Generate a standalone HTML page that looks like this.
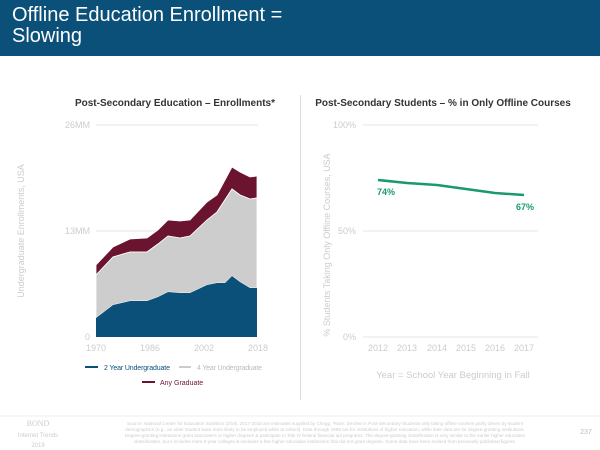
<!DOCTYPE html>
<html><head><meta charset="utf-8"><style>
body{margin:0;width:600px;height:450px;background:#fff;overflow:hidden;font-family:"Liberation Sans",sans-serif;position:relative}
.hd{position:absolute;left:0;top:0;width:600px;height:56px;background:#0b5079;color:#fff;font-size:20px;line-height:21px;padding:5px 0 0 12px;box-sizing:border-box}
</style></head><body>
<div class="hd">Offline Education Enrollment =<br>Slowing</div>
<svg width="600" height="450" style="position:absolute;left:0;top:0" font-family="Liberation Sans, sans-serif">
<text x="175" y="106" font-size="10" font-weight="bold" text-anchor="middle" fill="#333">Post-Secondary Education – Enrollments*</text>
<text x="443" y="106" font-size="10" font-weight="bold" text-anchor="middle" fill="#333">Post-Secondary Students – % in Only Offline Courses</text>
<line x1="300.5" y1="95" x2="300.5" y2="400" stroke="#ddd"/>
<g stroke="#e6e6e6"><line x1="96" y1="125" x2="258" y2="125"/><line x1="96" y1="231" x2="258" y2="231"/>
<line x1="363" y1="125" x2="538" y2="125"/><line x1="363" y1="231" x2="538" y2="231"/><line x1="363" y1="337" x2="538" y2="337"/></g>
<g font-size="9" fill="#ccc">
<text x="90" y="128" text-anchor="end">26MM</text><text x="90" y="234" text-anchor="end">13MM</text><text x="90" y="340" text-anchor="end">0</text>
<text x="96" y="351" text-anchor="middle">1970</text><text x="150" y="351" text-anchor="middle">1986</text><text x="204" y="351" text-anchor="middle">2002</text><text x="258" y="351" text-anchor="middle">2018</text>
<text x="356" y="128" text-anchor="end">100%</text><text x="356" y="234" text-anchor="end">50%</text><text x="356" y="340" text-anchor="end">0%</text>
<text x="378" y="351" text-anchor="middle">2012</text><text x="407" y="351" text-anchor="middle">2013</text><text x="437" y="351" text-anchor="middle">2014</text><text x="466" y="351" text-anchor="middle">2015</text><text x="495" y="351" text-anchor="middle">2016</text><text x="524" y="351" text-anchor="middle">2017</text>
<text transform="translate(24,231) rotate(-90)" text-anchor="middle">Undergraduate Enrollments, USA</text>
<text transform="translate(330,245) rotate(-90)" text-anchor="middle">% Students Taking Only Offline Courses, USA</text>
<text x="453" y="378" text-anchor="middle" font-size="9.5">Year = School Year Beginning in Fall</text>
</g>
<polygon fill="#6b1430" stroke="#fff" stroke-width="0.8" points="96,265 113,247 130,239 147,238 158,230 168,220 180,221 190,220 207,202 217,195 232,167 240,172 250,177 257,176 257,198 250,199 240,195 232,189 217,212 207,220 190,236 180,238 168,236 158,244 147,252 130,252 113,257 96,275"/>
<polygon fill="#cdcdcd" stroke="#fff" stroke-width="0.8" points="96,275 113,257 130,252 147,252 158,244 168,236 180,238 190,236 207,220 217,212 232,189 240,195 250,199 257,198 257,288 250,288 240,282 232,276 225,283 217,283 207,285 190,293 180,293 168,292 158,297 147,301 130,301 113,305 96,318"/>
<polygon fill="#0b5079" points="96,318 113,305 130,301 147,301 158,297 168,292 180,293 190,293 207,285 217,283 225,283 232,276 240,282 250,288 257,288 257,337 96,337"/>
<polyline fill="none" stroke="#1a9a6c" stroke-width="2.5" points="378,180 407,183 437,185 466,189 495,193 524,195"/>
<text x="377" y="195" font-size="9" font-weight="bold" fill="#1a9a6c">74%</text>
<text x="516" y="210" font-size="9" font-weight="bold" fill="#1a9a6c">67%</text>
<g font-size="7"><line x1="85" y1="367" x2="98" y2="367" stroke="#0b5079" stroke-width="2"/><text x="104" y="370" fill="#0b5079" textLength="66">2 Year Undergraduate</text>
<line x1="179" y1="367" x2="191" y2="367" stroke="#ccc" stroke-width="2"/><text x="197" y="370" fill="#bbb" textLength="65">4 Year Undergraduate</text>
<line x1="142" y1="382" x2="155" y2="382" stroke="#6b1430" stroke-width="2"/><text x="160" y="385" fill="#6b1430">Any Graduate</text></g>
<line x1="0" y1="416" x2="600" y2="416" stroke="#eee"/>
<text x="38" y="426" font-size="8" fill="#ccc" font-family="Liberation Serif, serif" text-anchor="middle">BOND</text>
<text x="38" y="437" font-size="6" fill="#ccc" text-anchor="middle">Internet Trends</text>
<text x="38" y="447" font-size="6" fill="#ccc" text-anchor="middle">2019</text>
<g font-size="4.6" fill="#ccc" text-anchor="middle"><text x="325" y="425">Source: National Center for Education Statistics (3/19). 2017-2018 are estimates supplied by Chegg. *Note: Decline in Post-Secondary Students only taking offline courses partly driven by student</text>
<text x="325" y="431">demographics (e.g., an older student base more likely to be employed while at school). Data through 1999 are for institutions of higher education, while later data are for degree-granting institutions.</text>
<text x="325" y="437">Degree-granting institutions grant associate's or higher degrees &amp; participate in Title IV federal financial aid programs. The degree-granting classification is very similar to the earlier higher education</text>
<text x="325" y="443">classification, but it includes more 2-year colleges &amp; excludes a few higher education institutions that did not grant degrees. Some data have been revised from previously published figures.</text></g>
<text x="586" y="434" font-size="7" fill="#bbb" text-anchor="middle">237</text>
</svg>
</body></html>
